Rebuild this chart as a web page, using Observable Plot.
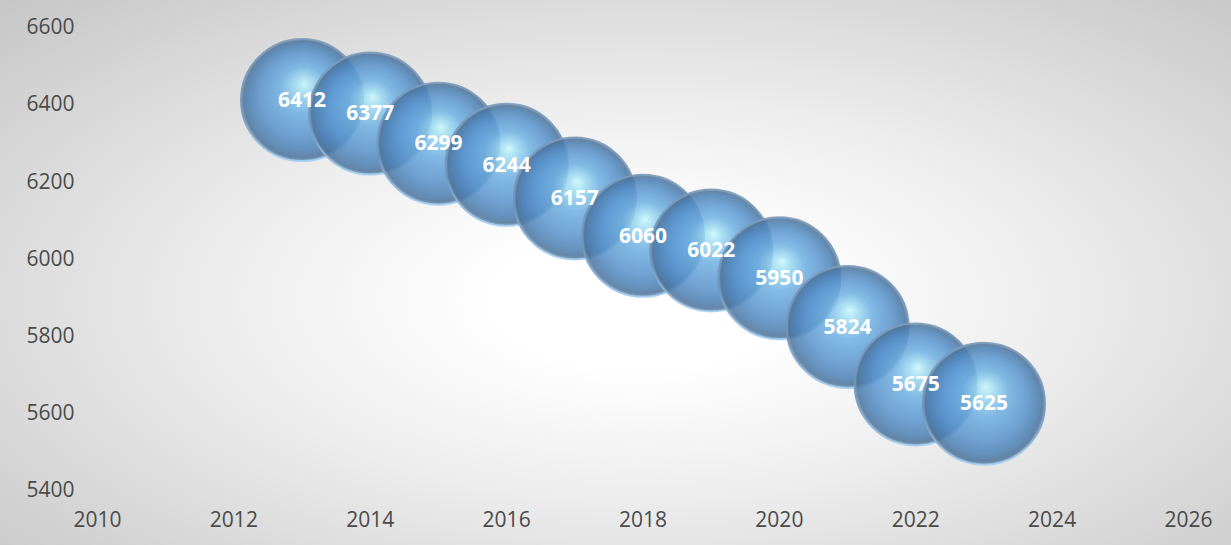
<!DOCTYPE html>
<html>
<head>
<meta charset="utf-8">
<script src="https://cdn.jsdelivr.net/npm/d3@7"></script>
<script src="https://cdn.jsdelivr.net/npm/@observablehq/plot@0.6"></script>
<style>
  html, body { margin: 0; padding: 0; background: #fff; }
  #chart svg {
    display: block;
    background: radial-gradient(ellipse farthest-corner at 52% 55%, #ffffff 0%, #ffffff 16%, #eeeeee 45%, #c6c6c6 100%);
  }
</style>
</head>
<body>
<div id="chart"></div>
<script>
const years = [2013, 2014, 2015, 2016, 2017, 2018, 2019, 2020, 2021, 2022, 2023];
const values = [6412, 6377, 6299, 6244, 6157, 6060, 6022, 5950, 5824, 5675, 5625];
const xTicks = [2010, 2012, 2014, 2016, 2018, 2020, 2022, 2024, 2026];
const yTicks = [5400, 5600, 5800, 6000, 6200, 6400, 6600];

const data = years.map((year, i) => ({year, value: values[i]}));

const chart = Plot.plot({
  width: 1231,
  height: 545,
  marginLeft: 97,
  marginRight: 43,
  marginTop: 27,
  marginBottom: 55,
  style: {fontFamily: "'Open Sans', sans-serif", fontSize: "21px", color: "#4a4a4a", overflow: "visible"},
  x: {domain: [2010, 2026], ticks: xTicks, tickFormat: d => String(d)},
  y: {domain: [5400, 6600], ticks: yTicks, tickFormat: d => String(d)},
  marks: [
    Plot.axisX({ticks: xTicks, tickFormat: d => String(d), tickSize: 0, tickPadding: 22, fill: "#4a4a4a", fontSize: 21, label: null}),
    Plot.axisY({ticks: yTicks, tickFormat: d => String(d), tickSize: 0, tickPadding: 23, fill: "#4a4a4a", fontSize: 21, label: null}),
    Plot.dot(data, {x: "year", y: "value", r: 61, fill: "url(#sphere)", fillOpacity: 0.86, stroke: "url(#rim)", strokeWidth: 2, strokeOpacity: 0.9}),
    Plot.text(data, {x: "year", y: "value", text: d => String(d.value), fill: "white", fontWeight: "bold", fontSize: 21})
  ]
});

const svg = d3.select(chart);
const defs = svg.insert("defs", ":first-child");
const g = defs.append("radialGradient")
  .attr("id", "sphere")
  .attr("cx", "0.5").attr("cy", "0.5").attr("r", "0.5")
  .attr("fx", "0.52").attr("fy", "0.36");
[
  [0, "#c8f8fc"],
  [0.14, "#9edcf2"],
  [0.38, "#70b0e2"],
  [0.68, "#5b96cf"],
  [0.88, "#4c7fb2"],
  [0.96, "#4d7399"],
  [1, "#7396b8"]
].forEach(([o, c]) => g.append("stop").attr("offset", o).attr("stop-color", c));

const rim = defs.append("linearGradient")
  .attr("id", "rim")
  .attr("x1", "0").attr("y1", "0").attr("x2", "0").attr("y2", "1");
[
  [0, "#7d9bb8"],
  [0.6, "#6f95bb"],
  [1, "#a4cff3"]
].forEach(([o, c]) => rim.append("stop").attr("offset", o).attr("stop-color", c));

document.getElementById("chart").appendChild(chart);
</script>
</body>
</html>
